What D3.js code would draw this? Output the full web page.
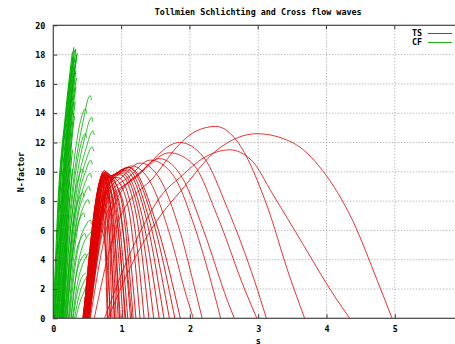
<!DOCTYPE html>
<html>
	<head>
		<title>Tollmien Schlichting and Cross flow waves</title>
		<script src="https://d3js.org/d3.v7.min.js"></script>
		<style>
			body { margin: 0; background: #fff; }
			text { font-family: "DejaVu Sans Mono", monospace; font-weight: bold; font-size: 8.4px; fill: #000; }
		</style>
	</head>
	<body>
		<script>

			// Global Variables
			var width = 455;
			var height = 344;
			var chart_title = "Tollmien Schlichting and Cross flow waves";
			var x_label = "s";
			var y_label = "N-factor";
			var series_names = ["TS", "CF"];
			var series_colors = ["#e00000", "#00b000"];
			var x_ticks = [0, 1, 2, 3, 4, 5];
			var y_ticks = [0, 2, 4, 6, 8, 10, 12, 14, 16, 18, 20];

			// TS waves - the dense bundle near s = 0.75 (points are [s, N])
			var ts_bundle = [
				[[0.43,0],[0.56,4.5],[0.64,7],[0.70,8.4],[0.75,6],[0.79,0]],
				[[0.44,0],[0.72,9.6],[0.76,7],[0.80,0]],
				[[0.44,0],[0.73,9.8],[0.78,7.5],[0.83,0]],
				[[0.45,0],[0.74,10.0],[0.80,7.8],[0.86,0]],
				[[0.44,0],[0.74,9.9],[0.82,7.5],[0.89,0]],
				[[0.46,0],[0.75,10.1],[0.83,8],[0.92,0]],
				[[0.45,0],[0.74,9.7],[0.84,7.6],[0.95,0]],
				[[0.47,0],[0.76,10.0],[0.86,8],[0.98,0]],
				[[0.46,0],[0.75,9.8],[0.88,7.8],[1.02,0]],
				[[0.48,0],[0.77,10.0],[0.90,8.2],[1.05,0]],
				[[0.47,0],[0.76,9.9],[0.92,8.0],[1.09,0]],
				[[0.48,0],[0.77,9.8],[0.95,8.2],[1.13,0]],
				[[0.49,0],[0.78,9.9],[0.98,8.4],[1.17,0]],
				[[0.48,0],[0.78,9.7],[1.00,8.3],[1.21,0]],
				[[0.50,0],[0.79,9.8],[0.92,9.5],[1.10,7.5],[1.27,0]],
				[[0.49,0],[0.78,9.6],[0.95,9.6],[1.15,7.4],[1.33,0]],
				[[0.50,0],[0.80,9.7],[0.98,9.8],[1.20,7.4],[1.40,0]],
				[[0.51,0],[0.80,9.6],[1.00,9.9],[1.25,7.2],[1.47,0]],
				[[0.50,0],[0.80,9.5],[1.02,10.0],[1.30,7.0],[1.55,0]],
				[[0.52,0],[0.81,9.4],[1.05,10.1],[1.35,7.0],[1.62,0]],
				[[0.51,0],[0.81,9.3],[1.08,10.2],[1.40,6.8],[1.70,0]],
				[[0.52,0],[0.82,9.2],[1.10,10.3],[1.45,6.8],[1.78,0]],
				[[0.53,0],[0.82,9.1],[1.12,10.3],[1.50,6.6],[1.86,0]],
				[[0.47,0],[0.60,4],[0.68,6.3],[0.76,5],[0.84,0]],
				[[0.49,0],[0.62,4.2],[0.72,7.6],[0.80,6.5],[0.90,0]],
				[[0.50,0],[0.66,5.5],[0.76,8.6],[0.86,7.2],[0.97,0]],
				[[0.52,0],[0.68,5.6],[0.80,8.8],[0.92,7.0],[1.06,0]],
				[[0.53,0],[0.70,5.8],[0.84,9.0],[0.98,7.2],[1.15,0]]
			];

			// TS waves - the wide humps to the right
			var ts_humps = [
				[[0.48,0],[0.74,8.6],[0.95,9.8],[1.15,10.4],[1.42,9.3],[1.70,5.8],[1.95,1.5],[2.05,0]],
				[[0.49,0],[0.76,8.4],[1.02,9.7],[1.27,10.6],[1.55,9.6],[1.85,6],[2.10,1.5],[2.18,0]],
				[[0.50,0],[0.78,8.2],[1.12,9.7],[1.42,10.8],[1.75,9.8],[2.05,6.5],[2.35,1.8],[2.45,0]],
				[[0.51,0],[0.80,8.0],[1.18,9.5],[1.55,10.9],[1.90,9.5],[2.20,6],[2.55,1.2],[2.65,0]],
				[[0.52,0],[0.82,7.6],[1.30,10],[1.70,11.3],[2.05,10.5],[2.40,7],[2.80,2],[2.98,0]],
				[[0.54,0],[0.86,7.4],[1.35,10.3],[1.85,12.0],[2.20,11.0],[2.55,7.5],[2.95,2.5],[3.12,0]],
				[[0.60,0],[0.95,6.6],[1.50,9.8],[1.85,11.9],[2.10,12.8],[2.38,13.1],[2.69,12.1],[3.12,7.8],[3.45,3],[3.68,0]],
				[[0.75,0],[1.20,5.2],[1.60,8.5],[1.85,9.6],[2.22,11.0],[2.58,11.5],[2.90,10.8],[3.21,8.5],[3.65,5.1],[4.05,2],[4.34,0]],
				[[0.80,0],[1.25,4.6],[1.60,7.2],[1.85,8.6],[2.40,11.5],[2.98,12.6],[3.50,12.0],[3.94,10.1],[4.38,6.7],[4.75,2.5],[4.96,0]]
			];

			// CF waves - the dense steep bundle
			var cf_bundle = [
				[[0.00,0],[0.07,8],[0.18,14],[0.28,18.2]],
				[[0.02,0],[0.09,8],[0.20,14],[0.30,18.5]],
				[[0.03,0],[0.11,8],[0.21,14],[0.31,18.3]],
				[[0.05,0],[0.13,8],[0.23,14],[0.33,18.4]],
				[[0.06,0],[0.14,8],[0.24,14],[0.34,18.0]],
				[[0.08,0],[0.16,8],[0.25,14],[0.35,18.1]],
				[[0.04,0],[0.12,8],[0.22,14],[0.30,17.6]],
				[[0.07,0],[0.15,8],[0.24,14],[0.32,17.3]],
				[[0.09,0],[0.17,8],[0.26,14],[0.33,16.9]],
				[[0.10,0],[0.18,8],[0.27,14],[0.34,16.4]],
				[[0.01,0],[0.08,8],[0.19,14],[0.27,17.0]],
				[[0.11,0],[0.19,8],[0.27,13.5],[0.33,15.8]],
				[[0.12,0],[0.20,8],[0.28,13.2],[0.32,14.8]],
				[[0.02,0],[0.10,8.5],[0.20,14.5],[0.29,17.8]],
				[[0.13,0],[0.21,8],[0.28,12.6],[0.31,13.8]],
				[[0.14,0],[0.22,8],[0.28,11.5]],
				[[0.15,0],[0.23,7.5],[0.28,10.2]],
				[[0.06,0],[0.13,7.5],[0.22,13.5],[0.29,16.0]]
			];

			// CF waves - the curling fronds to the right of the bundle
			var cf_fronds = [
				[[0.12,0],[0.20,5],[0.32,10.3],[0.43,13.3],[0.54,15.2],[0.56,14.9]],
				[[0.14,0],[0.23,5],[0.35,9.8],[0.46,12.3],[0.56,13.7],[0.58,13.4]],
				[[0.16,0],[0.25,5],[0.37,9.5],[0.48,11.6],[0.58,12.8],[0.60,12.5]],
				[[0.17,0],[0.26,5],[0.38,9],[0.48,10.8],[0.57,11.7],[0.59,11.4]],
				[[0.18,0],[0.27,4.8],[0.38,8.5],[0.47,10.0],[0.55,10.8],[0.57,10.5]],
				[[0.19,0],[0.28,4.6],[0.38,7.8],[0.46,9.2],[0.54,9.9],[0.56,9.6]],
				[[0.20,0],[0.28,4.2],[0.37,7.2],[0.45,8.4],[0.52,9.0],[0.54,8.7]],
				[[0.22,0],[0.29,3.8],[0.37,6.5],[0.44,7.6],[0.51,8.1],[0.53,7.8]],
				[[0.24,0],[0.31,3.2],[0.40,5.5],[0.47,6.3],[0.54,6.7],[0.56,6.4]],
				[[0.26,0],[0.33,2.8],[0.42,4.8],[0.50,5.6],[0.57,5.9],[0.59,5.6]],
				[[0.28,0],[0.35,2.3],[0.44,3.8],[0.51,4.4],[0.58,4.7],[0.60,4.4]],
				[[0.31,0],[0.38,1.6],[0.46,2.6],[0.52,3.0],[0.57,3.2],[0.59,2.9]],
				[[0.33,0],[0.39,1.1],[0.45,1.8],[0.50,2.3],[0.52,2.1]],
				[[0.15,0],[0.22,4.5],[0.30,8.0],[0.37,9.6],[0.42,10.2],[0.44,10.0]],
				[[0.17,0],[0.24,4],[0.31,7],[0.38,8.2],[0.43,8.6],[0.45,8.3]],
				[[0.20,0],[0.26,3.5],[0.33,5.8],[0.39,6.8],[0.44,7.2],[0.46,6.9]],
				[[0.23,0],[0.29,3],[0.35,4.8],[0.41,5.5],[0.46,5.8],[0.48,5.5]],
				[[0.26,0],[0.31,2.2],[0.37,3.6],[0.43,4.2],[0.47,4.4],[0.49,4.1]],
				[[0.29,0],[0.34,1.5],[0.40,2.6],[0.45,3.0],[0.48,3.1]],
				[[0.13,0],[0.21,4.8],[0.30,9.0],[0.40,11.8],[0.47,12.6],[0.49,12.3]],
				[[0.11,0],[0.19,5.2],[0.29,10.2],[0.40,13.5],[0.47,14.3],[0.49,14.0]]
			];

			// plot area (x runs to 6, past the right edge of the picture)
			var plot_left = 53.3, plot_top = 25.3, plot_bottom = 318.3, plot_right = 463.1;

			var svg = d3.select('body').append('svg')
				.attr('width', width)
				.attr('height', height);

			var x = d3.scaleLinear().domain([0, 6]).range([plot_left, plot_right]);
			var y = d3.scaleLinear().domain([0, 20]).range([plot_bottom, plot_top]);

			svg.append('clipPath').attr('id', 'plot_clip')
				.append('rect')
				.attr('x', plot_left).attr('y', plot_top)
				.attr('width', plot_right - plot_left).attr('height', plot_bottom - plot_top);

			// grid - dotted lines
			var grid = svg.append('g');
			grid.selectAll('.gx')
				.data(x_ticks.slice(1))
				.enter().append('line')
				.attr('x1', function (d) { return x(d); })
				.attr('x2', function (d) { return x(d); })
				.attr('y1', plot_top).attr('y2', plot_bottom)
				.attr('stroke', '#a0a0a0')
				.attr('stroke-dasharray', '1,2');
			grid.selectAll('.gy')
				.data(y_ticks.slice(1, -1))
				.enter().append('line')
				.attr('y1', function (d) { return y(d); })
				.attr('y2', function (d) { return y(d); })
				.attr('x1', plot_left).attr('x2', plot_right)
				.attr('stroke', '#a0a0a0')
				.attr('stroke-dasharray', '1,2');

			// curves
			var line = d3.line()
				.x(function (d) { return x(d[0]); })
				.y(function (d) { return y(d[1]); })
				.curve(d3.curveMonotoneX);

			var plot = svg.append('g').attr('clip-path', 'url(#plot_clip)');

			function draw_curves(data, color, w) {
				plot.append('g').selectAll('path')
					.data(data)
					.enter().append('path')
					.attr('d', line)
					.attr('fill', 'none')
					.attr('stroke', color)
					.attr('stroke-width', w);
			}

			draw_curves(cf_fronds, series_colors[1], 0.8);
			draw_curves(cf_bundle, series_colors[1], 1);
			draw_curves(ts_humps, series_colors[0], 0.8);
			draw_curves(ts_bundle, series_colors[0], 0.9);

			// axes
			var x_axis = d3.axisBottom(x).tickValues(x_ticks).tickSize(-4).tickPadding(7.5).tickFormat(d3.format('d'));
			var y_axis = d3.axisLeft(y).tickValues(y_ticks).tickSize(-4).tickPadding(8).tickFormat(d3.format('d'));

			var gx = svg.append('g').attr('transform', 'translate(0,' + plot_bottom + ')').call(x_axis);
			var gy = svg.append('g').attr('transform', 'translate(' + plot_left + ',0)').call(y_axis);
			[gx, gy].forEach(function (g) {
				g.select('.domain').remove();
				g.selectAll('line').attr('stroke', '#333');
				g.selectAll('text').attr('font-family', null).attr('font-size', null).attr('fill', '#000');
			});

			// ticks on the top border
			svg.append('g').selectAll('line')
				.data(x_ticks.slice(1))
				.enter().append('line')
				.attr('x1', function (d) { return x(d); })
				.attr('x2', function (d) { return x(d); })
				.attr('y1', plot_top).attr('y2', plot_top + 4)
				.attr('stroke', '#333');

			// border
			svg.append('rect')
				.attr('x', plot_left).attr('y', plot_top)
				.attr('width', plot_right - plot_left).attr('height', plot_bottom - plot_top)
				.attr('fill', 'none')
				.attr('stroke', '#444')
				.attr('stroke-width', 1.2);

			// title and labels
			svg.append('text').attr('x', (plot_left + plot_right) / 2).attr('y', 15)
				.attr('text-anchor', 'middle').text(chart_title);
			svg.append('text').attr('x', (plot_left + plot_right) / 2).attr('y', 343.5)
				.attr('text-anchor', 'middle').text(x_label);
			svg.append('text')
				.attr('transform', 'translate(24,172) rotate(-90)')
				.attr('text-anchor', 'middle').text(y_label);

			// legend
			var legend = svg.append('g').selectAll('g')
				.data(series_names)
				.enter().append('g')
				.attr('transform', function (d, i) { return 'translate(0,' + (33.5 + i * 9) + ')'; });
			legend.append('text')
				.attr('x', 422).attr('dy', '0.35em')
				.attr('text-anchor', 'end')
				.text(function (d) { return d; });
			legend.append('line')
				.attr('x1', 428).attr('x2', 452)
				.attr('stroke', function (d, i) { return series_colors[i]; })
				.attr('stroke-width', 0.9);

		</script>
	</body>
</html>
